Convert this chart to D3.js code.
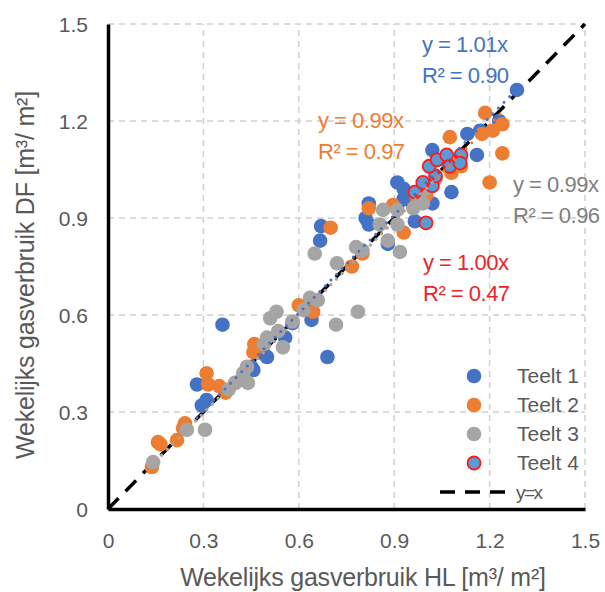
<!DOCTYPE html>
<html>
<head>
<meta charset="utf-8">
<script src="https://cdn.jsdelivr.net/npm/d3@7"></script>
<style>
  body { margin: 0; background: #fff; }
  text { font-family: "Liberation Sans", Arial, sans-serif; }
</style>
</head>
<body>
<script>
// weekly gas use HL (x) vs DF (y), per teelt
const teelt1 = [[0.36,0.57],[0.50,0.47],[0.457,0.43],[0.28,0.385],[0.31,0.337],[0.295,0.32],[0.667,0.83],[0.67,0.875],
  [0.64,0.585],[0.69,0.47],[0.58,0.575],[0.557,0.53],[0.82,0.945],[0.91,1.01],[0.81,0.90],[0.82,0.88],[0.965,0.89],
  [0.93,0.96],[1.02,0.945],[1.08,0.98],[0.88,0.82],[1.286,1.296],[1.23,1.20],[1.17,1.17],[1.13,1.16],[1.16,1.095],
  [1.02,1.11],[0.93,0.99],[0.49,0.48],[0.45,0.44]];
const teelt2 = [[0.138,0.13],[0.157,0.207],[0.165,0.20],[0.217,0.213],[0.242,0.265],[0.236,0.25],[0.31,0.42],
  [0.315,0.385],[0.35,0.38],[0.37,0.36],[0.46,0.51],[0.457,0.485],[0.47,0.505],[0.60,0.63],[0.645,0.61],[0.70,0.87],
  [0.767,0.75],[0.80,0.79],[0.93,0.855],[0.82,0.93],[0.896,0.94],[1.186,1.225],[1.24,1.19],[1.21,1.17],[1.176,1.16],
  [1.075,1.15],[1.24,1.10],[1.20,1.01],[1.11,1.06],[1.0,0.97],[0.97,0.96],[1.08,1.04],[0.40,0.39]];
const teelt3 = [[0.142,0.145],[0.248,0.245],[0.305,0.245],[0.38,0.37],[0.425,0.42],[0.437,0.44],[0.44,0.39],
  [0.49,0.51],[0.51,0.59],[0.53,0.61],[0.50,0.53],[0.535,0.55],[0.55,0.50],[0.615,0.615],[0.635,0.653],[0.66,0.646],
  [0.717,0.57],[0.786,0.61],[0.65,0.79],[0.72,0.76],[0.78,0.81],[0.80,0.80],[0.88,0.83],[0.918,0.795],[0.865,0.925],
  [0.91,0.925],[0.855,0.88],[0.91,0.88],[0.98,0.955],[0.99,0.945],[0.40,0.39],[0.96,0.93],[1.0,0.99],[1.03,1.02],
  [0.58,0.58]];
const teelt4 = [[0.965,0.98],[1.0,0.885],[1.02,1.0],[1.03,1.03],[1.01,1.06],[1.035,1.08],[1.065,1.095],[1.075,1.06],
  [1.11,1.095],[1.107,1.07],[0.99,1.01]];
const slopes = [1.01, 0.99, 0.99, 1.00];
const r2 = ["0.90", "0.97", "0.96", "0.47"];
const seriesNames = ["Teelt 1", "Teelt 2", "Teelt 3", "Teelt 4"];
const ticks = [0, 0.3, 0.6, 0.9, 1.2, 1.5];

const W = 605, H = 592;
const m = {left: 108, right: 20, top: 24, bottom: 83};

const svg = d3.select("body").append("svg").attr("width", W).attr("height", H);
const x = d3.scaleLinear().domain([0, 1.5]).range([m.left, W - m.right]);
const y = d3.scaleLinear().domain([0, 1.5]).range([H - m.bottom, m.top]);

const fills = ["#4472C4", "#ED7D31", "#A5A5A5", "#5B9BD5"];
const textCols = ["#4472C4", "#ED7D31", "#7F7F7F", "#E8262A"];

// grid
svg.append("g").selectAll("line").data(ticks.slice(1)).join("line")
  .attr("x1", d => x(d)).attr("x2", d => x(d)).attr("y1", y(0)).attr("y2", y(1.5))
  .attr("stroke", "#D0D0D0").attr("stroke-width", 1.5).attr("stroke-dasharray", "6,5");
svg.append("g").selectAll("line").data(ticks.slice(1)).join("line")
  .attr("y1", d => y(d)).attr("y2", d => y(d)).attr("x1", x(0)).attr("x2", x(1.5))
  .attr("stroke", "#D0D0D0").attr("stroke-width", 1.5).attr("stroke-dasharray", "6,5");

// axes
const xAxis = svg.append("g").attr("transform", `translate(0,${y(0)})`)
  .call(d3.axisBottom(x).tickValues(ticks).tickSize(0).tickPadding(24).tickFormat(d3.format("~g")));
const yAxis = svg.append("g").attr("transform", `translate(${x(0)},0)`)
  .call(d3.axisLeft(y).tickValues(ticks).tickSize(0).tickPadding(20).tickFormat(d3.format("~g")));
[xAxis, yAxis].forEach(a => {
  a.select(".domain").attr("stroke", "#000").attr("stroke-width", 3.5);
  a.selectAll("text").attr("font-size", 21).attr("fill", "#595959")
    .attr("font-family", "Liberation Sans, Arial, sans-serif");
});
yAxis.selectAll("text").attr("dy", "0.35em");

// y = x
svg.append("line")
  .attr("x1", x(0)).attr("y1", y(0)).attr("x2", x(1.5)).attr("y2", y(1.5))
  .attr("stroke", "#000").attr("stroke-width", 3.5).attr("stroke-dasharray", "15,10");

// points
const all = [teelt1, teelt2, teelt3, teelt4];
all.forEach((s, i) => {
  svg.append("g").selectAll("circle").data(s).join("circle")
    .attr("cx", d => x(d[0])).attr("cy", d => y(d[1])).attr("r", i === 3 ? 6.5 : 7.3)
    .attr("fill", fills[i])
    .attr("stroke", i === 3 ? "#FF1A1A" : "none").attr("stroke-width", 1.8);
});

// trendlines through origin
const trendCols = ["#4472C4", "#ED7D31", "#A5A5A5", "#FF1A1A"];
all.forEach((s, i) => {
  const ext = d3.extent(s, d => d[0]);
  svg.append("line")
    .attr("x1", x(ext[0])).attr("y1", y(ext[0] * slopes[i]))
    .attr("x2", x(ext[1])).attr("y2", y(ext[1] * slopes[i]))
    .attr("stroke", trendCols[i]).attr("stroke-width", 3)
    .attr("stroke-linecap", "round").attr("stroke-dasharray", "0,8")
    .attr("stroke-dashoffset", i * 2);
});

// equation labels
const eqPos = [[422, 52], [318, 128], [513, 192], [423, 270]];
eqPos.forEach((p, i) => {
  const t = svg.append("text").attr("x", p[0]).attr("y", p[1]).attr("fill", textCols[i])
    .attr("font-size", 22).attr("letter-spacing", -0.5);
  t.append("tspan").text(`y = ${slopes[i].toFixed(2)}x`);
  t.append("tspan").attr("x", p[0]).attr("dy", 31).text(`R² = ${r2[i]}`);
});

// legend
const lg = svg.append("g");
seriesNames.forEach((n, i) => {
  const ly = 376 + i * 29;
  lg.append("circle").attr("cx", 474).attr("cy", ly).attr("r", i === 3 ? 6.5 : 7.3)
    .attr("fill", fills[i]).attr("stroke", i === 3 ? "#FF1A1A" : "none").attr("stroke-width", 1.8);
  lg.append("text").attr("x", 517).attr("y", ly).attr("dy", "0.35em")
    .attr("font-size", 21).attr("fill", "#595959").text(n);
});
lg.append("line").attr("x1", 440).attr("x2", 510).attr("y1", 492).attr("y2", 492)
  .attr("stroke", "#000").attr("stroke-width", 3.5).attr("stroke-dasharray", "15,10");
lg.append("text").attr("x", 516).attr("y", 492).attr("dy", "0.35em")
  .attr("font-size", 19).attr("letter-spacing", -1.5).attr("fill", "#595959").text("y=x");

// axis titles
svg.append("text").attr("x", 363).attr("y", 586).attr("text-anchor", "middle")
  .attr("font-size", 25).attr("fill", "#595959").attr("letter-spacing", -0.2)
  .text("Wekelijks gasverbruik HL [m³/ m²]");
svg.append("text").attr("transform", `translate(34,275) rotate(-90)`)
  .attr("text-anchor", "middle").attr("font-size", 25).attr("fill", "#595959").attr("letter-spacing", -0.2)
  .text("Wekelijks gasverbruik DF [m³/ m²]");
</script>
</body>
</html>
